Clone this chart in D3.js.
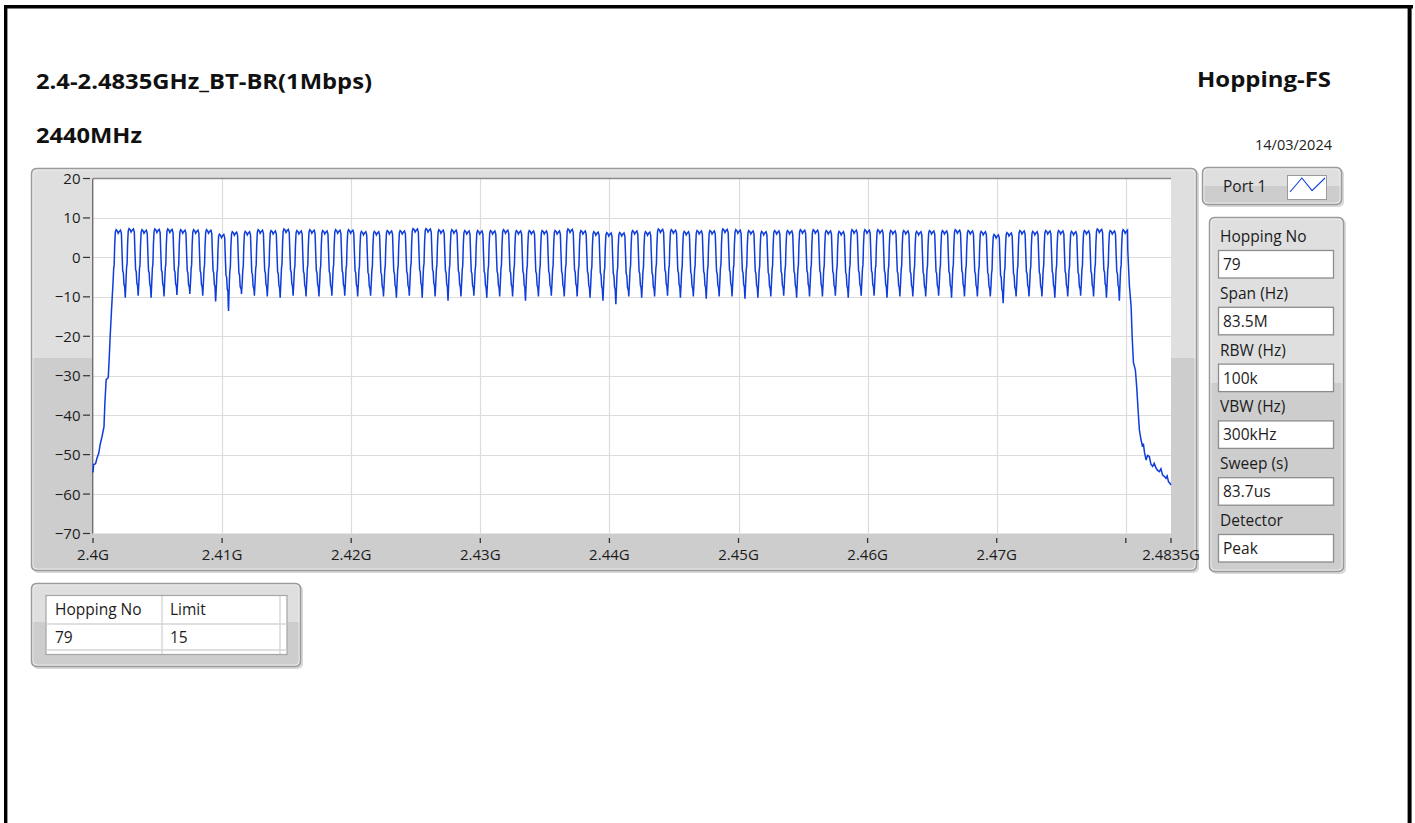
<!DOCTYPE html>
<html>
<head>
<meta charset="utf-8">
<script src="https://cdn.jsdelivr.net/npm/d3@7"></script>
<style>
  html, body { margin: 0; padding: 0; background: #ffffff; }
  svg { display: block; }
  text { font-family: "Open Sans", "Noto Sans", sans-serif; }
</style>
</head>
<body>
<svg id="chart" width="1415" height="823"></svg>
<script>
// ---------------- report header ----------------
const titleLeft = "2.4-2.4835GHz_BT-BR(1Mbps)";
const subTitle = "2440MHz";
const titleRight = "Hopping-FS";
const reportDate = "14/03/2024";

// ---------------- measurement settings ----------------
const paramLabels = ["Hopping No", "Span (Hz)", "RBW (Hz)", "VBW (Hz)", "Sweep (s)", "Detector"];
const paramValues = ["79", "83.5M", "100k", "300kHz", "83.7us", "Peak"];
const legendName = "Port 1";
const resultHeaders = ["Hopping No", "Limit"];
const resultRow = ["79", "15"];

// ---------------- axes ----------------
const freqDomainMHz = [2400, 2483.5];
const levelDomain = [-70, 20];
const xTickMHz = [2400, 2410, 2420, 2430, 2440, 2450, 2460, 2470, 2480, 2483.5];
const xTickLabels = ["2.4G", "2.41G", "2.42G", "2.43G", "2.44G", "2.45G", "2.46G", "2.47G", "", "2.4835G"];
const yTicks = [20, 10, 0, -10, -20, -30, -40, -50, -60, -70];

// ---------------- trace data ----------------
// Bluetooth BR hopping channels: 2402 .. 2480 MHz, 1 MHz apart
const channelCentersMHz = d3.range(2402, 2481, 1);
// peak level of each hopping channel (dBm)
const channelPeak = [
  7.0, 7.3, 7.0, 7.2, 7.2, 7.0, 7.0, 7.0, 5.9, 6.5,
  6.6, 7.0, 6.8, 7.2, 6.8, 7.0, 6.8, 7.0, 7.0, 6.6,
  6.6, 6.8, 6.8, 7.3, 7.3, 7.0, 7.0, 6.8, 6.8, 6.8,
  7.0, 6.8, 6.8, 6.8, 6.8, 7.2, 6.8, 6.5, 6.3, 6.3,
  6.8, 6.5, 7.2, 7.0, 6.6, 6.8, 6.8, 7.2, 7.0, 6.8,
  6.6, 6.8, 6.8, 7.0, 7.0, 6.8, 6.6, 7.0, 7.0, 7.0,
  6.8, 6.8, 6.6, 6.8, 6.8, 7.0, 6.8, 6.6, 5.8, 6.3,
  6.8, 6.6, 6.8, 6.8, 6.6, 6.8, 7.2, 6.8, 7.0
];
// minimum between neighbouring channels (dBm), at 2402.5 .. 2479.5 MHz
const channelDip = [
  -10.2, -9.7, -10.2, -9.9, -9.5, -9.3, -9.7, -11.2, -13.6, -9.3,
  -9.7, -9.9, -10.2, -9.7, -9.9, -9.9, -9.7, -9.7, -9.9, -9.7,
  -9.9, -10.2, -9.7, -10.2, -9.9, -11.0, -9.9, -9.7, -10.2, -9.9,
  -9.9, -11.0, -9.9, -9.7, -9.9, -9.9, -10.2, -11.0, -11.9, -9.9,
  -10.2, -9.9, -9.7, -10.2, -9.9, -10.5, -9.9, -9.9, -10.5, -10.2,
  -9.9, -9.7, -10.2, -9.9, -9.9, -9.7, -10.2, -9.7, -9.7, -10.2,
  -9.9, -9.9, -9.9, -9.7, -10.2, -9.9, -9.9, -9.9, -11.6, -9.9,
  -9.9, -9.9, -10.2, -9.9, -9.7, -9.9, -10.2, -11.0
];
// shape of one channel: [offset from centre (MHz), level relative to channel peak (dB)]
const channelShape = [
  [-0.44, -12.9], [-0.40, -9.9], [-0.36, -8.9], [-0.32, -3.9],
  [-0.27, -0.6], [-0.21, 0.0], [-0.12, -0.3], [-0.05, -0.9],
  [0.04, -0.4], [0.13, -0.1], [0.20, -0.9], [0.25, -5.9],
  [0.30, -10.4], [0.35, -10.9], [0.40, -13.9], [0.45, -14.4]
];
// lower band edge skirt [MHz, dBm]
const lowerSkirt = [
  [2400.0, -54.5], [2400.05, -52.5], [2400.2, -52.3], [2400.3, -51.0],
  [2400.45, -49.6], [2400.55, -47.5], [2400.7, -45.4], [2400.85, -43.0],
  [2400.92, -37.0], [2401.02, -31.0], [2401.18, -30.5], [2401.25, -26.0],
  [2401.33, -20.0], [2401.45, -12.4]
];
// upper band edge skirt [MHz, dBm]
const upperSkirt = [
  [2480.15, 2.0], [2480.28, -7.3], [2480.41, -12.4], [2480.49, -20.0],
  [2480.59, -26.7], [2480.74, -28.5], [2480.84, -32.7], [2480.95, -38.6],
  [2481.05, -43.7], [2481.18, -46.3], [2481.30, -48.0], [2481.36, -47.2],
  [2481.45, -49.5], [2481.57, -51.4], [2481.68, -50.2], [2481.82, -50.5],
  [2481.95, -52.5], [2482.08, -53.0], [2482.20, -52.2], [2482.34, -53.4],
  [2482.47, -54.0], [2482.60, -54.3], [2482.72, -53.6], [2482.85, -55.2],
  [2482.98, -55.5], [2483.11, -56.0], [2483.20, -55.4], [2483.31, -56.9],
  [2483.40, -57.2], [2483.50, -57.7]
];

// build trace: each channel's shape at its own level, joined by the measured dips
const body = [];
channelCentersMHz.forEach((c, i) => {
  channelShape.forEach(([off, rel]) => body.push([c + off, channelPeak[i] + rel]));
  if (i < channelDip.length) {
    body.push([c + 0.48, channelDip[i] + 1.2]);
    body.push([c + 0.5, channelDip[i]]);
  }
});
const lowEnd = lowerSkirt[lowerSkirt.length - 1][0];
const highStart = upperSkirt[0][0];
const trace = lowerSkirt
  .concat(body.filter(p => p[0] > lowEnd && p[0] < highStart))
  .concat(upperSkirt);

// ---------------- drawing ----------------
const svg = d3.select("#chart");
const uiSize = 15.5;
const ink = "#1c1c1c";

// page frame
svg.append("rect").attr("width", 1415).attr("height", 823).attr("fill", "#ffffff");
svg.append("line").attr("x1", 5.7).attr("x2", 5.7).attr("y1", 5).attr("y2", 823)
  .attr("stroke", "#000").attr("stroke-width", 3.4);
svg.append("line").attr("x1", 4).attr("x2", 1413).attr("y1", 6.7).attr("y2", 6.7)
  .attr("stroke", "#000").attr("stroke-width", 3.4);
svg.append("line").attr("x1", 1409.6).attr("x2", 1409.6).attr("y1", 5).attr("y2", 823)
  .attr("stroke", "#000").attr("stroke-width", 4);

// header
function heading(txt, xPos, yPos, width, anchor) {
  svg.append("text").attr("x", xPos).attr("y", yPos).attr("font-size", 21).attr("font-weight", 700)
    .attr("text-anchor", anchor).attr("fill", "#111")
    .attr("textLength", width).attr("lengthAdjust", "spacingAndGlyphs").text(txt);
}
heading(titleLeft, 36, 89, 336, "start");
heading(subTitle, 36, 143, 106, "start");
heading(titleRight, 1331, 87, 134, "end");
svg.append("text").attr("x", 1332).attr("y", 150).attr("font-size", 14.5)
  .attr("text-anchor", "end").attr("fill", "#222").text(reportDate);

// raised grey panel with a lighter upper half
let clipId = 0;
function panel(x0, y0, x1, y1, splitY) {
  const g = svg.append("g");
  const w = x1 - x0, h = y1 - y0;
  g.append("rect").attr("x", x0 + 2).attr("y", y0 + 2).attr("width", w).attr("height", h)
    .attr("rx", 5).attr("fill", "#d9d9d9");
  const id = "pclip" + (clipId++);
  g.append("clipPath").attr("id", id).append("rect")
    .attr("x", x0).attr("y", y0).attr("width", w).attr("height", h).attr("rx", 5);
  const body = g.append("g").attr("clip-path", `url(#${id})`);
  body.append("rect").attr("x", x0).attr("y", y0).attr("width", w).attr("height", h).attr("fill", "#cdcdcd");
  body.append("rect").attr("x", x0).attr("y", y0).attr("width", w).attr("height", splitY - y0).attr("fill", "#dfdfdf");
  g.append("rect").attr("x", x0 + 1.8).attr("y", y0 + 1.8).attr("width", w - 3.6).attr("height", h - 3.6)
    .attr("rx", 4).attr("fill", "none").attr("stroke", "#f4f4f4").attr("stroke-width", 1);
  g.append("rect").attr("x", x0 + 0.5).attr("y", y0 + 0.5).attr("width", w - 1).attr("height", h - 1)
    .attr("rx", 5).attr("fill", "none").attr("stroke", "#9a9a9a").attr("stroke-width", 1.5);
  return g;
}

// ---- graph panel ----
panel(31, 168, 1197, 571, 358);

const plot = { left: 93, right: 1171, top: 178.5, bottom: 533.5 };
const x = d3.scaleLinear().domain(freqDomainMHz).range([plot.left, plot.right]);
const y = d3.scaleLinear().domain(levelDomain).range([plot.bottom, plot.top]);

svg.append("rect").attr("x", plot.left).attr("y", plot.top)
  .attr("width", plot.right - plot.left).attr("height", plot.bottom - plot.top).attr("fill", "#ffffff");

// grid
svg.append("g").selectAll("line").data(yTicks.filter(v => v > levelDomain[0] && v < levelDomain[1]))
  .join("line")
  .attr("x1", plot.left).attr("x2", plot.right)
  .attr("y1", d => Math.round(y(d)) + 0.5).attr("y2", d => Math.round(y(d)) + 0.5)
  .attr("stroke", "#dcdcdc").attr("stroke-width", 1.2);
svg.append("g").selectAll("line").data(xTickMHz.filter(v => v > freqDomainMHz[0] && v < freqDomainMHz[1]))
  .join("line")
  .attr("x1", d => Math.round(x(d)) + 0.5).attr("x2", d => Math.round(x(d)) + 0.5)
  .attr("y1", plot.top).attr("y2", plot.bottom)
  .attr("stroke", "#dcdcdc").attr("stroke-width", 1.2);

// plot border (top and left)
svg.append("line").attr("x1", plot.left).attr("x2", plot.right).attr("y1", plot.top).attr("y2", plot.top)
  .attr("stroke", "#8a8a8a").attr("stroke-width", 1.4);
svg.append("line").attr("x1", plot.left - 0.3).attr("x2", plot.left - 0.3).attr("y1", plot.top).attr("y2", plot.bottom)
  .attr("stroke", "#6f6f6f").attr("stroke-width", 1.4);

// y axis ticks + labels
const yAxis = svg.append("g");
yAxis.selectAll("line").data(yTicks).join("line")
  .attr("x1", 83).attr("x2", 90)
  .attr("y1", d => y(d)).attr("y2", d => y(d))
  .attr("stroke", "#333").attr("stroke-width", 1.2);
yAxis.selectAll("text").data(yTicks).join("text")
  .attr("x", 80.5).attr("y", d => y(d) + 5.5)
  .attr("text-anchor", "end").attr("font-size", 15).attr("fill", ink)
  .text(d => d3.format("d")(d));

// x axis ticks + labels
const xAxis = svg.append("g");
xAxis.selectAll("line").data(xTickMHz).join("line")
  .attr("x1", d => x(d)).attr("x2", d => x(d))
  .attr("y1", 538).attr("y2", 543)
  .attr("stroke", "#333").attr("stroke-width", 1.3);
xAxis.selectAll("text").data(xTickMHz).join("text")
  .attr("x", d => x(d)).attr("y", 560)
  .attr("text-anchor", "middle").attr("font-size", 15).attr("fill", ink)
  .text((d, i) => xTickLabels[i]);

// spectrum trace
const line = d3.line().x(d => x(d[0])).y(d => y(d[1]));
svg.append("path").datum(trace)
  .attr("d", line)
  .attr("fill", "none").attr("stroke", "#0e3ddb").attr("stroke-width", 1.5)
  .attr("stroke-linejoin", "miter");

// ---- legend panel ----
panel(1202, 167, 1342, 205, 186);
svg.append("text").attr("x", 1223).attr("y", 192).attr("font-size", uiSize).attr("fill", ink).text(legendName);
svg.append("rect").attr("x", 1287.5).attr("y", 175.5).attr("width", 39).attr("height", 24)
  .attr("fill", "#fff").attr("stroke", "#9a9a9a").attr("stroke-width", 1);
const glyph = [[0, 1], [0.34, 0], [0.63, 0.9], [1, 0]];
const gx = d3.scaleLinear().range([1290, 1325]);
const gy = d3.scaleLinear().range([178, 192]);
svg.append("path").datum(glyph)
  .attr("d", d3.line().x(d => gx(d[0])).y(d => gy(d[1])))
  .attr("fill", "none").attr("stroke", "#0e3ddb").attr("stroke-width", 1.1);

// ---- settings panel ----
panel(1209, 217, 1344, 572, 383);
const rowY = d3.scaleLinear().domain([0, paramLabels.length - 1]).range([250, 534]);
const params = svg.append("g");
paramLabels.forEach((lab, i) => {
  const top = rowY(i);
  params.append("text").attr("x", 1220).attr("y", top - 8).attr("font-size", uiSize)
    .attr("fill", ink).text(lab);
  params.append("rect").attr("x", 1218.5).attr("y", top + 0.5).attr("width", 115).attr("height", 27.5)
    .attr("fill", "#fff").attr("stroke", "#8d8d8d").attr("stroke-width", 1.3);
  params.append("text").attr("x", 1223).attr("y", top + 20).attr("font-size", uiSize)
    .attr("fill", ink).text(paramValues[i]);
});

// ---- result table panel ----
panel(31, 583, 301, 667, 622);
const tbl = svg.append("g");
tbl.append("rect").attr("x", 46).attr("y", 595.5).attr("width", 241).attr("height", 59)
  .attr("fill", "#fff").attr("stroke", "#a5a5a5").attr("stroke-width", 1.2);
[624, 650].forEach(v => tbl.append("line").attr("x1", 46).attr("x2", 287).attr("y1", v).attr("y2", v)
  .attr("stroke", "#d6d6d6").attr("stroke-width", 1.4));
[162, 280].forEach(v => tbl.append("line").attr("x1", v).attr("x2", v).attr("y1", 596).attr("y2", 654)
  .attr("stroke", "#d6d6d6").attr("stroke-width", 1.4));
const colX = [55, 170];
resultHeaders.forEach((h, i) => tbl.append("text").attr("x", colX[i]).attr("y", 615)
  .attr("font-size", uiSize).attr("fill", ink).text(h));
resultRow.forEach((v, i) => tbl.append("text").attr("x", colX[i]).attr("y", 643)
  .attr("font-size", uiSize).attr("fill", ink).text(v));
</script>
</body>
</html>
